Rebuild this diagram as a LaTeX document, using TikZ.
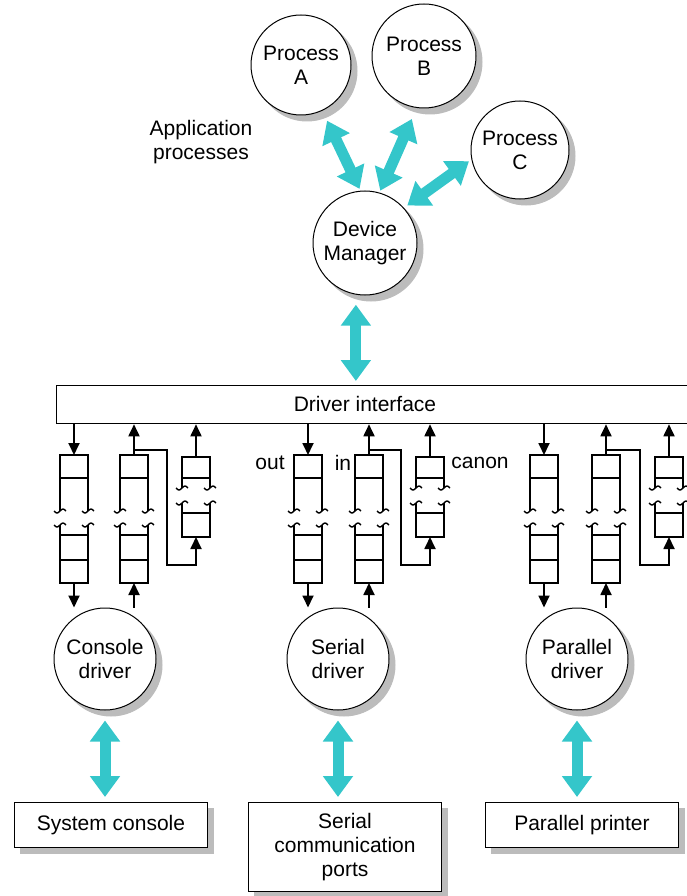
\documentclass[tikz,border=0pt]{standalone}
\usepackage{fontspec}
\setmainfont{Liberation Sans}
\usetikzlibrary{arrows.meta}

\newlength{\du}
\setlength{\du}{1pt}
\definecolor{pipecyan}{RGB}{52,198,202}
\definecolor{shadowgray}{RGB}{188,188,188}

\tikzset{
  lbl/.style={font=\fontsize{21}{24}\selectfont, align=center, inner sep=0pt},
  shade/.style={preaction={draw=shadowgray, fill=shadowgray, transform canvas={xshift=6pt, yshift=-6pt}}},
  proc/.style={lbl, circle, draw, line width=1\du, fill=white, shade},
  devbox/.style={lbl, rectangle, draw, line width=1.3\du, fill=white, anchor=north,
    minimum width=193\du, shade},
  flow/.style={pipecyan, line width=11\du,
    {Triangle[length=21pt,width=29pt]}-{Triangle[length=21pt,width=29pt]}},
  qline/.style={line width=1.8\du},
  qarrow/.style={line width=1.8\du, -{Triangle[length=12pt,width=11pt]}},
  brk/.pic={\draw[line width=1.4\du] (-6,0) sin (-3,2) cos (0,0) sin (3,-2) cos (6,0);},
  % long queue, origin at the top
  queue/.pic={
    \draw[qline] (-14,56) -- (-14,0) -- (14,0) -- (14,56);
    \draw[qline] (-14,23) -- (14,23);
    \draw[qline] (-14,70) -- (-14,128) -- (14,128) -- (14,70);
    \draw[qline] (-14,80) -- (14,80) (-14,105) -- (14,105);
    \pic at (-14,56) {brk}; \pic at (14,56) {brk};
    \pic at (-14,70) {brk}; \pic at (14,70) {brk};
    \coordinate (-top) at (0,0);
    \coordinate (-tap) at (0,-5);
    \coordinate (-bot) at (0,128);
  },
  % short canon queue
  canonq/.pic={
    \draw[qline] (-14,31) -- (-14,0) -- (14,0) -- (14,31);
    \draw[qline] (-14,21) -- (14,21);
    \draw[qline] (-14,46) -- (-14,80) -- (14,80) -- (14,46);
    \draw[qline] (-14,56) -- (14,56);
    \pic at (-14,31) {brk}; \pic at (14,31) {brk};
    \pic at (-14,46) {brk}; \pic at (14,46) {brk};
    \coordinate (-top) at (0,0);
    \coordinate (-bot) at (0,80);
    \coordinate (-jog) at (-29,108);
  }
}

\begin{document}
\begin{tikzpicture}[x=\du, y=-\du]
\useasboundingbox (0,0) rectangle (687,896);

% application processes
\node[proc, minimum size=100\du] (pa) at (301,65) {Process\\A};
\node[proc, minimum size=104\du] (pb) at (424,56) {Process\\B};
\node[proc, minimum size=98\du] (pc) at (520,150) {Process\\C};
\node[lbl] (apptext) at (201,142) {Application\\processes};
\node[proc, minimum size=104\du] (dm) at (365,243) {Device\\Manager};

\draw[flow, shorten <=11pt, shorten >=2pt] (pa.-65) -- (dm.95);
\draw[flow, shorten <=12pt, shorten >=2pt] (pb.-98) -- (dm.74);
\draw[flow, shorten <=3pt, shorten >=4pt] (pc.-169) -- (dm.42);

% driver interface
\node[draw, line width=1.3\du, minimum width=660\du, minimum height=38\du,
  anchor=north west, inner sep=0pt] (iface) at (56,385) {};
\node[lbl] (ifacetext) at (365,404) {Driver interface};
\draw[flow, shorten <=10pt, shorten >=4pt] (dm.-100) -- (dm.-100 |- iface.north);

% queues
\pic (c-out) at (74,455) {queue};
\pic (c-in) at (134,455) {queue};
\pic (c-can) at (196,457) {canonq};
\pic (s-out) at (308,455) {queue};
\pic (s-in) at (369,455) {queue};
\pic (s-can) at (430,457) {canonq};
\pic (p-out) at (544,455) {queue};
\pic (p-in) at (606,455) {queue};
\pic (p-can) at (669,457) {canonq};

\node[lbl] (outtext) at (270,463) {out};
\node[lbl] (intext) at (343,463) {in};
\node[lbl] (canontext) at (480,463) {canon};

% drivers
\node[proc, minimum size=102\du] (cdrv) at (105,659) {Console\\driver};
\node[proc, minimum size=102\du] (sdrv) at (338,659) {Serial\\driver};
\node[proc, minimum size=102\du] (pdrv) at (577,659) {Parallel\\driver};

% console
\draw[qarrow] (c-out-top |- iface.south) -- (c-out-top);
\draw[qarrow] (c-out-bot) -- (c-out-bot |- cdrv.north);
\draw[qarrow] (c-in-bot |- cdrv.north) -- (c-in-bot);
\draw[qarrow] (c-in-top) -- (c-in-top |- iface.south);
\draw[qarrow] (c-can-top) -- (c-can-top |- iface.south);
\draw[qarrow] (c-in-tap) -| (c-can-jog) -| (c-can-bot);
% serial
\draw[qarrow] (s-out-top |- iface.south) -- (s-out-top);
\draw[qarrow] (s-out-bot) -- (s-out-bot |- sdrv.north);
\draw[qarrow] (s-in-bot |- sdrv.north) -- (s-in-bot);
\draw[qarrow] (s-in-top) -- (s-in-top |- iface.south);
\draw[qarrow] (s-can-top) -- (s-can-top |- iface.south);
\draw[qarrow] (s-in-tap) -| (s-can-jog) -| (s-can-bot);
% parallel
\draw[qarrow] (p-out-top |- iface.south) -- (p-out-top);
\draw[qarrow] (p-out-bot) -- (p-out-bot |- pdrv.north);
\draw[qarrow] (p-in-bot |- pdrv.north) -- (p-in-bot);
\draw[qarrow] (p-in-top) -- (p-in-top |- iface.south);
\draw[qarrow] (p-can-top) -- (p-can-top |- iface.south);
\draw[qarrow] (p-in-tap) -| (p-can-jog) -| (p-can-bot);

% devices
\node[devbox, minimum height=45\du] (sysc) at (111,802) {System console};
\node[devbox, minimum height=89\du] (serp) at (345,802) {Serial\\communication\\ports};
\node[devbox, minimum height=45\du] (parp) at (582,802) {Parallel printer};

\draw[flow, shorten <=10pt, shorten >=5pt] (cdrv.south) -- (cdrv.south |- sysc.north);
\draw[flow, shorten <=10pt, shorten >=5pt] (sdrv.south) -- (sdrv.south |- serp.north);
\draw[flow, shorten <=10pt, shorten >=5pt] (pdrv.south) -- (pdrv.south |- parp.north);
\end{tikzpicture}
\end{document}
